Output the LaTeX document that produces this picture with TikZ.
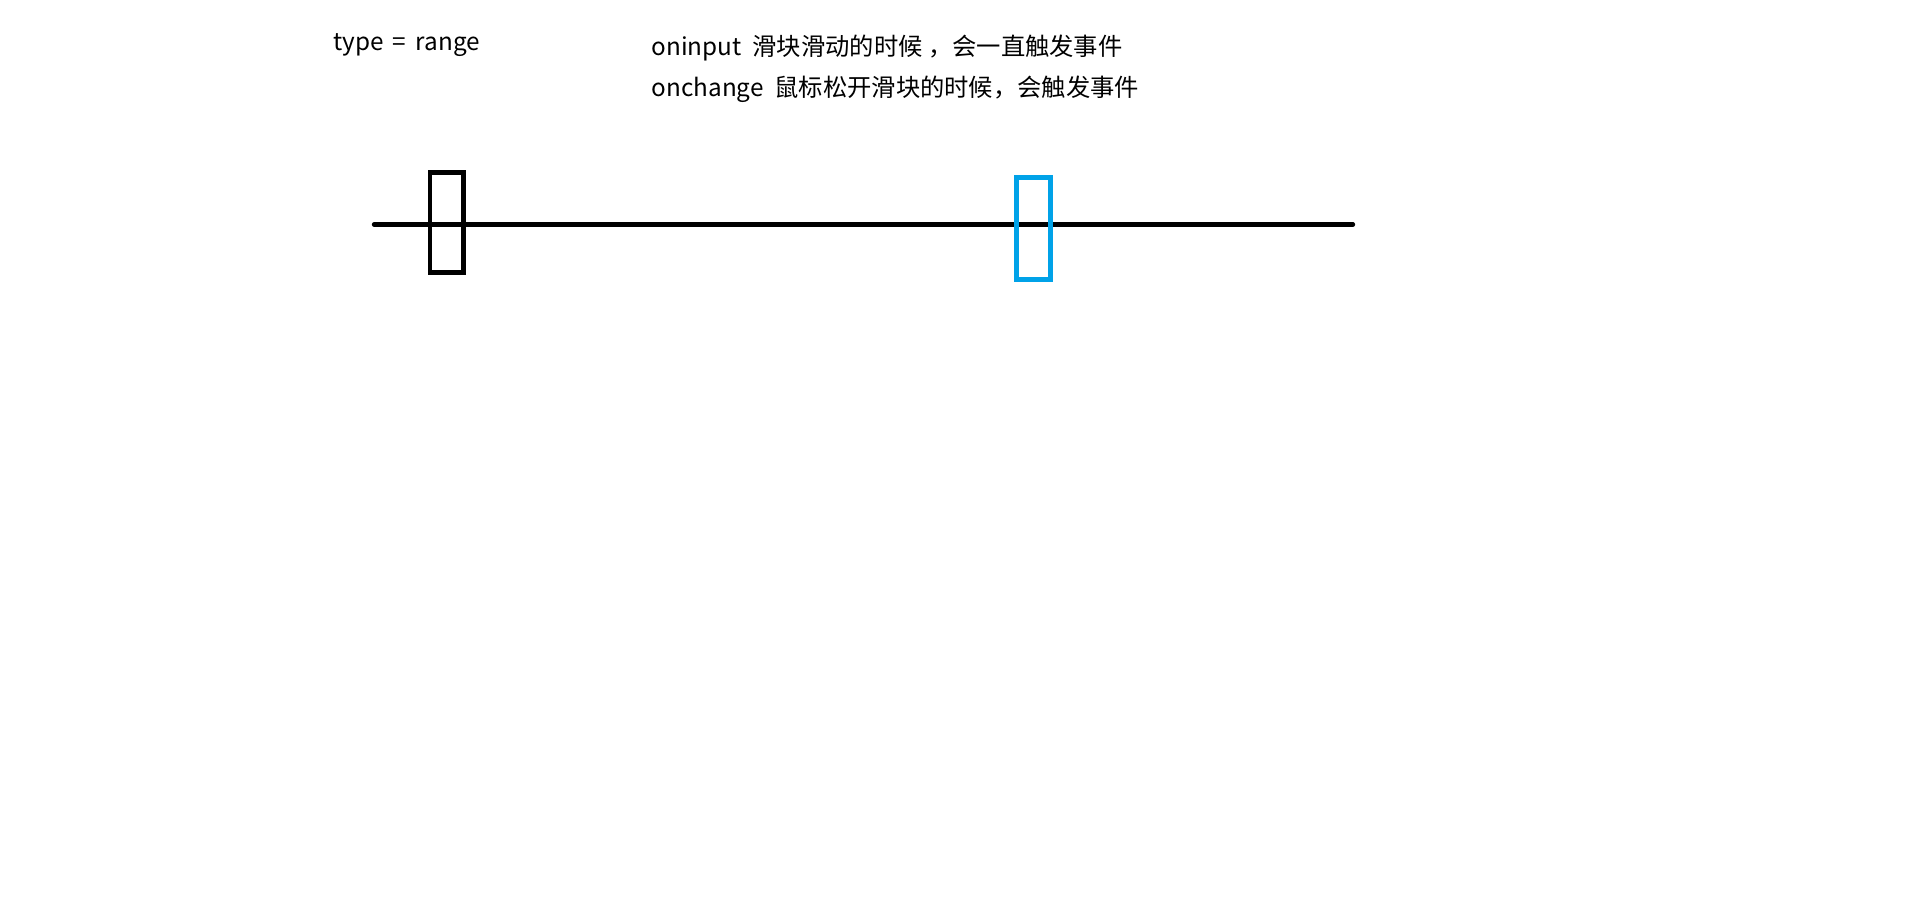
\documentclass[tikz,border=0pt]{standalone}
\usepackage{fontspec}
\newfontfamily\cjk{Noto Sans CJK SC}
\definecolor{thumbblue}{RGB}{0,162,232}

\begin{document}
\begin{tikzpicture}
[x=1pt,y=-1pt,
 note/.style={font=\cjk\fontsize{24.3}{29}\selectfont,inner sep=0pt,anchor=base west},
 thumb/.style={draw=black,line width=4.7pt,minimum width=33.5pt,minimum height=100pt,inner sep=0pt}]

\useasboundingbox (0,0) rectangle (1914,916);

\node[note] (type) at (333,50) {type\kern4pt\ =\ \kern4pt range};

\node[note] (oninput) at (651.5,55.7) {oninput\ \ 滑块滑动的时候 ，会一直触发事件};
\node[note] (onchange) at (651.5,96.7) {onchange\ \ 鼠标松开滑块的时候，会触发事件};

\coordinate (trackL) at (374,224.5);
\coordinate (trackR) at (1353,224.5);

\draw [line width=4.4pt,line cap=round] (trackL) -- (trackR);

\node[thumb] (thumbA) at (446.75,222.5) {};
\node[thumb,draw=thumbblue,line width=5pt,minimum width=34pt,minimum height=102pt] (thumbB) at (1033.5,228.5) {};
\end{tikzpicture}
\end{document}
